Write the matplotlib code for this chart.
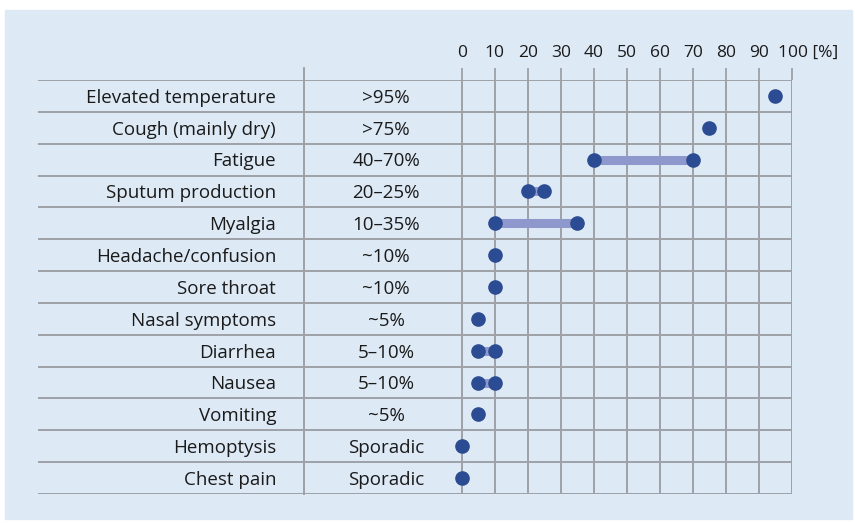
import matplotlib
matplotlib.use("Agg")
import matplotlib.pyplot as plt
from matplotlib.transforms import ScaledTranslation

symptoms = ["Elevated temperature", "Cough (mainly dry)", "Fatigue", "Sputum production",
            "Myalgia", "Headache/confusion", "Sore throat", "Nasal symptoms", "Diarrhea",
            "Nausea", "Vomiting", "Hemoptysis", "Chest pain"]
freq_text = [">95%", ">75%", "40\u201370%", "20\u201325%", "10\u201335%", "~10%", "~10%",
             "~5%", "5\u201310%", "5\u201310%", "~5%", "Sporadic", "Sporadic"]
low = [95, 75, 40, 20, 10, 10, 10, 5, 5, 5, 5, 0, 0]
high = [95, 75, 70, 25, 35, 10, 10, 5, 10, 10, 5, 0, 0]
ticks = [0, 10, 20, 30, 40, 50, 60, 70, 80, 90, 100]
tick_labels = ["0", "10", "20", "30", "40", "50", "60", "70", "80", "90", "100 [%]"]

W, H = 855, 523
panel = "#dde9f5"
grid_c = "#9ea2a7"
dot_c = "#2b4b92"
bar_c = "#8f98cc"
txt_c = "#1a1a1a"

plt.rcParams["font.family"] = ["Open Sans", "DejaVu Sans"]
fig = plt.figure(figsize=(W / 100, H / 100), dpi=100)
fig.patches.append(plt.Rectangle((5 / W, 4 / H), 847 / W, 509 / H, transform=fig.transFigure,
                                 color=panel, zorder=-5))

# axes spans from left table edge (x=38px) to 100% line (x=792px)
x_left = (38 - 461.7) / 3.3
ax = fig.add_axes([38 / W, (H - 494) / H, (791.7 - 38) / W, (494 - 80) / H])
ax.set_facecolor("none")
ax.set_xlim(x_left, 100)
ax.set_ylim(len(symptoms), 0)
for s in ax.spines.values():
    s.set_visible(False)

ax.xaxis.tick_top()
ax.set_xticks(ticks)
ax.set_xticklabels(tick_labels, fontsize=12.5, color=txt_c)
ax.tick_params(axis="x", length=8.6, width=1.3, color=grid_c, pad=5)
# "100" sits centred on its line, "[%]" trails after it
last = ax.get_xticklabels()[-1]
last.set_horizontalalignment("left")
last.set_transform(last.get_transform() + ScaledTranslation(-14 / 100, 0, fig.dpi_scale_trans))
ax.set_yticks([])

n = len(symptoms)
lw = 1.4
for i in range(n + 1):
    ax.plot([x_left, 100], [i, i], color=grid_c, lw=lw, zorder=1, solid_capstyle="butt")
for t in ticks:
    ax.plot([t, t], [0, n], color=grid_c, lw=lw, zorder=1)
sep_x = (304 - 461.7) / 3.3
ax.plot([sep_x, sep_x], [-0.38, n], color=grid_c, lw=lw, zorder=1, clip_on=False)

label_x = (276 - 461.7) / 3.3
freq_x = (386 - 461.7) / 3.3
for i, (s, f) in enumerate(zip(symptoms, freq_text)):
    y = i + 0.5
    ax.text(label_x, y + 0.215, s, ha="right", va="baseline", fontsize=13.5, color=txt_c)
    ax.text(freq_x, y + 0.215, f, ha="center", va="baseline", fontsize=13.5, color=txt_c)
    if high[i] > low[i]:
        ax.plot([low[i], high[i]], [y, y], color=bar_c, lw=6.5, zorder=3, solid_capstyle="butt")
        ax.plot([low[i], high[i]], [y, y], "o", color=dot_c, ms=9.5, zorder=4, clip_on=False)
    else:
        ax.plot([low[i]], [y], "o", color=dot_c, ms=9.5, zorder=4, clip_on=False)

fig.savefig("out.png", dpi=100)
